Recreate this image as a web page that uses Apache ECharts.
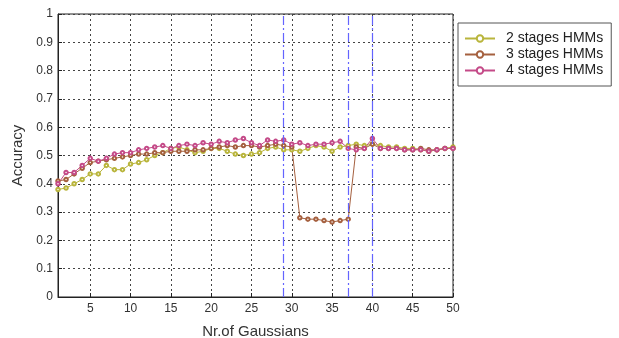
<!DOCTYPE html>
<html>
<head>
<meta charset="utf-8">
<script src="https://cdn.jsdelivr.net/npm/echarts@6/dist/echarts.min.js"></script>
<style>
  html, body { margin: 0; padding: 0; background: #fff; }
  #chart-1 { width: 619px; height: 338px; }
</style>
</head>
<body>
<div id="chart-1"></div>
<script>
const gaussians = [1, 2, 3, 4, 5, 6, 7, 8, 9, 10, 11, 12, 13, 14, 15, 16, 17, 18, 19, 20,
  21, 22, 23, 24, 25, 26, 27, 28, 29, 30, 31, 32, 33, 34, 35, 36, 37, 38, 39, 40,
  41, 42, 43, 44, 45, 46, 47, 48, 49, 50]

const twoStages = [0.38, 0.385, 0.40, 0.415, 0.435, 0.435, 0.465, 0.45, 0.45, 0.47,
  0.475, 0.485, 0.50, 0.51, 0.525, 0.53, 0.52, 0.51, 0.515, 0.525,
  0.525, 0.515, 0.505, 0.50, 0.505, 0.51, 0.525, 0.53, 0.52, 0.52,
  0.515, 0.525, 0.535, 0.53, 0.515, 0.53, 0.535, 0.54, 0.535, 0.54,
  0.535, 0.53, 0.53, 0.525, 0.525, 0.52, 0.515, 0.52, 0.525, 0.53]

const threeStages = [0.41, 0.415, 0.435, 0.455, 0.475, 0.48, 0.485, 0.49, 0.495, 0.50,
  0.505, 0.505, 0.51, 0.51, 0.515, 0.515, 0.515, 0.52, 0.52, 0.525,
  0.53, 0.535, 0.53, 0.535, 0.535, 0.53, 0.535, 0.54, 0.535, 0.53,
  0.28, 0.275, 0.275, 0.27, 0.265, 0.27, 0.275, 0.53, 0.525, 0.54,
  0.525, 0.525, 0.525, 0.52, 0.52, 0.525, 0.52, 0.52, 0.525, 0.525]

const fourStages = [0.40, 0.44, 0.44, 0.465, 0.49, 0.48, 0.49, 0.505, 0.51, 0.51,
  0.52, 0.525, 0.53, 0.535, 0.525, 0.535, 0.54, 0.535, 0.545, 0.54,
  0.55, 0.545, 0.555, 0.56, 0.545, 0.535, 0.555, 0.55, 0.555, 0.54,
  0.545, 0.535, 0.54, 0.54, 0.545, 0.55, 0.525, 0.52, 0.525, 0.56,
  0.525, 0.525, 0.525, 0.52, 0.52, 0.52, 0.515, 0.52, 0.525, 0.525]

const xTicks = [5, 10, 15, 20, 25, 30, 35, 40, 45, 50]
const blueMarks = [29, 37, 40]

const seriesNames = ["2 stages HMMs", "3 stages HMMs", "4 stages HMMs"]
const seriesColors = ["#b9b53c", "#a5603f", "#c44a88"]

const chartDom = document.getElementById("chart-1")
const myChart = echarts.init(chartDom)

const pairs = (ys) => gaussians.map((g, i) => [g, ys[i]])

const makeSeries = (name, ys, color, extra) => ({
  name: name,
  type: "line",
  data: pairs(ys),
  symbol: "emptyCircle",
  symbolSize: 3.5,
  z: 3,
  lineStyle: { color: color, width: 1 },
  itemStyle: { color: color, borderWidth: 1 },
  emphasis: { disabled: true },
  ...extra,
})

const option = {
  animation: false,
  backgroundColor: "#fff",
  textStyle: { fontFamily: "Liberation Sans, Arial, sans-serif" },
  grid: {
    left: 58,
    right: 166,
    top: 14,
    bottom: 41,
    outerBoundsMode: "none",
    show: true,
    borderColor: "#222",
    borderWidth: 1,
  },
  legend: {
    data: seriesNames,
    orient: "vertical",
    left: 458,
    top: 23,
    padding: [8, 8, 8, 6],
    itemWidth: 30,
    itemHeight: 8,
    itemGap: 1,
    borderColor: "#555",
    borderWidth: 1,
    backgroundColor: "#fff",
    textStyle: {
      fontSize: 14,
      color: "#222",
      lineHeight: 15,
      padding: [0, 0, 0, 6],
    },
  },
  xAxis: {
    type: "value",
    min: 1,
    max: 50,
    name: "Nr.of Gaussians",
    nameLocation: "middle",
    nameGap: 27,
    nameTextStyle: { fontSize: 15, color: "#333" },
    axisLine: { show: true, lineStyle: { color: "#222" } },
    axisTick: { show: true, inside: true, length: 4, customValues: xTicks, lineStyle: { color: "#222" } },
    axisLabel: { customValues: xTicks, fontSize: 12, color: "#333", margin: 6 },
    splitLine: { show: true, lineStyle: { color: "#444", type: [2, 3], width: 1 } },
  },
  yAxis: {
    type: "value",
    min: 0,
    max: 1,
    interval: 0.1,
    name: "Accuracy",
    nameLocation: "middle",
    nameGap: 30,
    nameTextStyle: { fontSize: 15, color: "#333" },
    axisLine: { show: true, lineStyle: { color: "#222" } },
    axisTick: { show: true, inside: true, length: 4, lineStyle: { color: "#222" } },
    axisLabel: { fontSize: 12, color: "#333", margin: 5 },
    splitLine: { show: true, lineStyle: { color: "#444", type: [2, 3], width: 1 } },
  },
  series: [
    makeSeries(seriesNames[0], twoStages, seriesColors[0], {
      markLine: {
        silent: true,
        symbol: "none",
        label: { show: false },
        emphasis: { disabled: true },
        animation: false,
        lineStyle: { color: "#6464ff", type: [9, 3, 2, 3], width: 1.2, opacity: 1 },
        data: blueMarks.map((v) => ({ xAxis: v })),
      },
    }),
    makeSeries(seriesNames[1], threeStages, seriesColors[1]),
    makeSeries(seriesNames[2], fourStages, seriesColors[2]),
  ],
}

option && myChart.setOption(option)
</script>
</body>
</html>
